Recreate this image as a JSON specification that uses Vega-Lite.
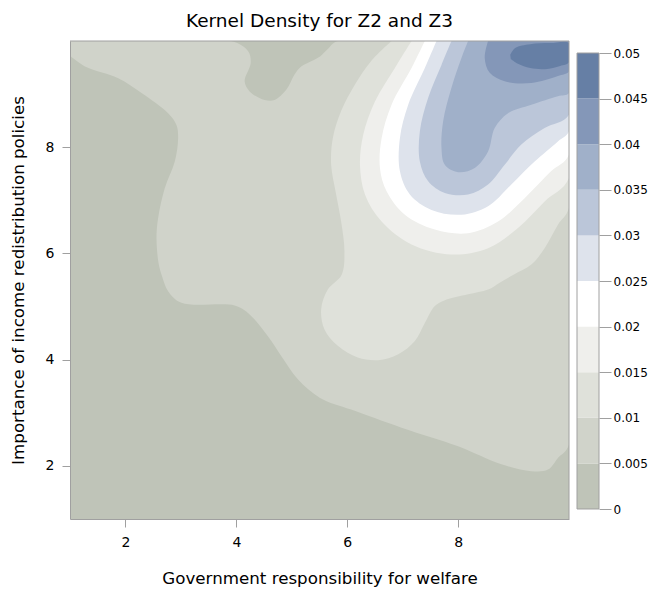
{
  "$schema": "https://vega.github.io/schema/vega-lite/v6.json",
  "autosize": {"type": "none"},
  "padding": {"left": 70, "top": 41, "right": 592, "bottom": 548},
  "background": "#ffffff",
  "spacing": 8,
  "bounds": "flush",
  "resolve": {"scale": {"x": "independent", "y": "independent", "fill": "independent"}},
  "hconcat": [
    {
      "width": 499,
      "height": 478,
      "title": {"text": "Kernel Density for Z2 and Z3", "font": "DejaVu Sans", "fontSize": 18.5, "fontWeight": "normal", "color": "#000000", "anchor": "middle", "frame": "group", "offset": 10},
      "data": {"values": [
        {"lev":0.0025,"i":1,"x":1,"y":1},{"lev":0.0025,"i":2,"x":10,"y":1},{"lev":0.0025,"i":3,"x":10,"y":10},{"lev":0.0025,"i":4,"x":1,"y":10},

        {"lev":0.0075,"i":1,"x":1,"y":10},{"lev":0.0075,"i":2,"x":3.91,"y":10},{"lev":0.0075,"i":3,"x":4.21,"y":9.81},{"lev":0.0075,"i":4,"x":4.26,"y":9.59},{"lev":0.0075,"i":5,"x":4.15,"y":9.24},{"lev":0.0075,"i":6,"x":4.24,"y":9.05},{"lev":0.0075,"i":7,"x":4.51,"y":8.89},{"lev":0.0075,"i":8,"x":4.69,"y":8.89},{"lev":0.0075,"i":9,"x":4.9,"y":9.08},{"lev":0.0075,"i":10,"x":5.05,"y":9.37},{"lev":0.0075,"i":11,"x":5.17,"y":9.52},{"lev":0.0075,"i":12,"x":5.35,"y":9.62},{"lev":0.0075,"i":13,"x":5.51,"y":9.71},{"lev":0.0075,"i":14,"x":5.65,"y":9.85},{"lev":0.0075,"i":15,"x":5.83,"y":10},{"lev":0.0075,"i":16,"x":10,"y":10},{"lev":0.0075,"i":17,"x":10,"y":2.4},{"lev":0.0075,"i":18,"x":9.8,"y":2.15},{"lev":0.0075,"i":19,"x":9.62,"y":1.93},{"lev":0.0075,"i":20,"x":9.32,"y":1.9},{"lev":0.0075,"i":21,"x":8.78,"y":2.03},{"lev":0.0075,"i":22,"x":8.0,"y":2.37},{"lev":0.0075,"i":23,"x":6.98,"y":2.72},{"lev":0.0075,"i":24,"x":6.07,"y":3.06},{"lev":0.0075,"i":25,"x":5.51,"y":3.28},{"lev":0.0075,"i":26,"x":5.11,"y":3.63},{"lev":0.0075,"i":27,"x":4.81,"y":4.07},{"lev":0.0075,"i":28,"x":4.57,"y":4.44},{"lev":0.0075,"i":29,"x":4.21,"y":4.88},{"lev":0.0075,"i":30,"x":3.97,"y":5.02},{"lev":0.0075,"i":31,"x":3.01,"y":5.07},{"lev":0.0075,"i":32,"x":2.77,"y":5.29},{"lev":0.0075,"i":33,"x":2.66,"y":5.57},{"lev":0.0075,"i":34,"x":2.6,"y":5.8},{"lev":0.0075,"i":35,"x":2.56,"y":6.29},{"lev":0.0075,"i":36,"x":2.59,"y":6.67},{"lev":0.0075,"i":37,"x":2.71,"y":7.23},{"lev":0.0075,"i":38,"x":2.89,"y":7.73},{"lev":0.0075,"i":39,"x":2.95,"y":8.17},{"lev":0.0075,"i":40,"x":2.92,"y":8.42},{"lev":0.0075,"i":41,"x":2.77,"y":8.64},{"lev":0.0075,"i":42,"x":2.29,"y":9.02},{"lev":0.0075,"i":43,"x":1.87,"y":9.3},{"lev":0.0075,"i":44,"x":1.27,"y":9.52},{"lev":0.0075,"i":45,"x":1,"y":9.72},

        {"lev":0.0125,"i":1,"x":6.8,"y":10},{"lev":0.0125,"i":2,"x":6.43,"y":9.62},{"lev":0.0125,"i":3,"x":6.14,"y":9.18},{"lev":0.0125,"i":4,"x":5.89,"y":8.68},{"lev":0.0125,"i":5,"x":5.74,"y":8.17},{"lev":0.0125,"i":6,"x":5.71,"y":7.67},{"lev":0.0125,"i":7,"x":5.8,"y":7.11},{"lev":0.0125,"i":8,"x":5.89,"y":6.6},{"lev":0.0125,"i":9,"x":5.95,"y":6.04},{"lev":0.0125,"i":10,"x":5.9,"y":5.6},{"lev":0.0125,"i":11,"x":5.65,"y":5.32},{"lev":0.0125,"i":12,"x":5.53,"y":4.95},{"lev":0.0125,"i":13,"x":5.59,"y":4.57},{"lev":0.0125,"i":14,"x":5.83,"y":4.26},{"lev":0.0125,"i":15,"x":6.19,"y":4.04},{"lev":0.0125,"i":16,"x":6.56,"y":3.99},{"lev":0.0125,"i":17,"x":6.92,"y":4.1},{"lev":0.0125,"i":18,"x":7.22,"y":4.35},{"lev":0.0125,"i":19,"x":7.4,"y":4.69},{"lev":0.0125,"i":20,"x":7.58,"y":5.01},{"lev":0.0125,"i":21,"x":7.76,"y":5.12},{"lev":0.0125,"i":22,"x":8.18,"y":5.23},{"lev":0.0125,"i":23,"x":8.54,"y":5.32},{"lev":0.0125,"i":24,"x":8.75,"y":5.45},{"lev":0.0125,"i":25,"x":9.0,"y":5.6},{"lev":0.0125,"i":26,"x":9.32,"y":5.79},{"lev":0.0125,"i":27,"x":9.56,"y":6.1},{"lev":0.0125,"i":28,"x":9.8,"y":6.54},{"lev":0.0125,"i":29,"x":10,"y":6.86},{"lev":0.0125,"i":30,"x":10,"y":10},

        {"lev":0.0175,"i":1,"x":7.16,"y":10},{"lev":0.0175,"i":2,"x":6.86,"y":9.49},{"lev":0.0175,"i":3,"x":6.5,"y":8.86},{"lev":0.0175,"i":4,"x":6.29,"y":8.24},{"lev":0.0175,"i":5,"x":6.23,"y":7.67},{"lev":0.0175,"i":6,"x":6.32,"y":7.11},{"lev":0.0175,"i":7,"x":6.62,"y":6.6},{"lev":0.0175,"i":8,"x":7.16,"y":6.17},{"lev":0.0175,"i":9,"x":7.88,"y":5.98},{"lev":0.0175,"i":10,"x":8.54,"y":6.1},{"lev":0.0175,"i":11,"x":9.08,"y":6.48},{"lev":0.0175,"i":12,"x":9.56,"y":6.98},{"lev":0.0175,"i":13,"x":10,"y":7.42},{"lev":0.0175,"i":14,"x":10,"y":10},

        {"lev":0.0225,"i":1,"x":7.4,"y":10},{"lev":0.0225,"i":2,"x":7.16,"y":9.49},{"lev":0.0225,"i":3,"x":6.8,"y":8.8},{"lev":0.0225,"i":4,"x":6.62,"y":8.17},{"lev":0.0225,"i":5,"x":6.59,"y":7.61},{"lev":0.0225,"i":6,"x":6.71,"y":7.17},{"lev":0.0225,"i":7,"x":7.04,"y":6.73},{"lev":0.0225,"i":8,"x":7.58,"y":6.45},{"lev":0.0225,"i":9,"x":8.18,"y":6.38},{"lev":0.0225,"i":10,"x":8.72,"y":6.6},{"lev":0.0225,"i":11,"x":9.2,"y":7.04},{"lev":0.0225,"i":12,"x":9.68,"y":7.55},{"lev":0.0225,"i":13,"x":10,"y":7.86},{"lev":0.0225,"i":14,"x":10,"y":10},

        {"lev":0.0275,"i":1,"x":7.61,"y":10},{"lev":0.0275,"i":2,"x":7.4,"y":9.49},{"lev":0.0275,"i":3,"x":7.1,"y":8.8},{"lev":0.0275,"i":4,"x":6.95,"y":8.17},{"lev":0.0275,"i":5,"x":6.95,"y":7.55},{"lev":0.0275,"i":6,"x":7.13,"y":7.11},{"lev":0.0275,"i":7,"x":7.52,"y":6.82},{"lev":0.0275,"i":8,"x":8.06,"y":6.73},{"lev":0.0275,"i":9,"x":8.54,"y":6.89},{"lev":0.0275,"i":10,"x":8.96,"y":7.3},{"lev":0.0275,"i":11,"x":9.38,"y":7.73},{"lev":0.0275,"i":12,"x":9.8,"y":8.11},{"lev":0.0275,"i":13,"x":10,"y":8.3},{"lev":0.0275,"i":14,"x":10,"y":10},

        {"lev":0.0325,"i":1,"x":7.88,"y":10},{"lev":0.0325,"i":2,"x":7.7,"y":9.55},{"lev":0.0325,"i":3,"x":7.46,"y":8.93},{"lev":0.0325,"i":4,"x":7.31,"y":8.3},{"lev":0.0325,"i":5,"x":7.31,"y":7.73},{"lev":0.0325,"i":6,"x":7.46,"y":7.36},{"lev":0.0325,"i":7,"x":7.76,"y":7.14},{"lev":0.0325,"i":8,"x":8.18,"y":7.11},{"lev":0.0325,"i":9,"x":8.54,"y":7.3},{"lev":0.0325,"i":10,"x":8.84,"y":7.67},{"lev":0.0325,"i":11,"x":9.14,"y":8.05},{"lev":0.0325,"i":12,"x":9.56,"y":8.36},{"lev":0.0325,"i":13,"x":10,"y":8.61},{"lev":0.0325,"i":14,"x":10,"y":10},

        {"lev":0.0375,"i":1,"x":8.18,"y":10},{"lev":0.0375,"i":2,"x":8.06,"y":9.68},{"lev":0.0375,"i":3,"x":7.88,"y":9.12},{"lev":0.0375,"i":4,"x":7.73,"y":8.49},{"lev":0.0375,"i":5,"x":7.7,"y":7.99},{"lev":0.0375,"i":6,"x":7.76,"y":7.67},{"lev":0.0375,"i":7,"x":8.0,"y":7.53},{"lev":0.0375,"i":8,"x":8.3,"y":7.61},{"lev":0.0375,"i":9,"x":8.54,"y":7.92},{"lev":0.0375,"i":10,"x":8.66,"y":8.36},{"lev":0.0375,"i":11,"x":8.9,"y":8.64},{"lev":0.0375,"i":12,"x":9.32,"y":8.8},{"lev":0.0375,"i":13,"x":9.8,"y":8.96},{"lev":0.0375,"i":14,"x":10,"y":9.02},{"lev":0.0375,"i":15,"x":10,"y":10},

        {"lev":0.0425,"i":1,"x":8.54,"y":10},{"lev":0.0425,"i":2,"x":8.48,"y":9.68},{"lev":0.0425,"i":3,"x":8.57,"y":9.4},{"lev":0.0425,"i":4,"x":8.84,"y":9.24},{"lev":0.0425,"i":5,"x":9.32,"y":9.21},{"lev":0.0425,"i":6,"x":9.8,"y":9.34},{"lev":0.0425,"i":7,"x":10,"y":9.43},{"lev":0.0425,"i":8,"x":10,"y":10},

        {"lev":0.0475,"i":1,"x":8.94,"y":9.74},{"lev":0.0475,"i":2,"x":9.03,"y":9.87},{"lev":0.0475,"i":3,"x":9.3,"y":9.94},{"lev":0.0475,"i":4,"x":9.66,"y":9.96},{"lev":0.0475,"i":5,"x":10,"y":9.96},{"lev":0.0475,"i":6,"x":10,"y":9.6},{"lev":0.0475,"i":7,"x":9.84,"y":9.53},{"lev":0.0475,"i":8,"x":9.57,"y":9.47},{"lev":0.0475,"i":9,"x":9.3,"y":9.49},{"lev":0.0475,"i":10,"x":9.08,"y":9.57},{"lev":0.0475,"i":11,"x":8.95,"y":9.66}
      ]},
      "encoding": {
        "x": {"field": "x", "type": "quantitative", "scale": {"domain": [1, 10], "nice": false, "zero": false},
          "axis": {"title": "Government responsibility for welfare", "values": [2, 4, 6, 8], "grid": false, "zindex": 1, "domainColor": "#a0a0a0", "tickColor": "#a0a0a0", "tickSize": 8, "labelPadding": 8, "labelFont": "DejaVu Sans", "labelFontSize": 14, "labelColor": "#000000", "titleFont": "DejaVu Sans", "titleFontSize": 16.7, "titleFontWeight": "normal", "titleColor": "#000000", "titlePadding": 21}},
        "y": {"field": "y", "type": "quantitative", "scale": {"domain": [1, 10], "nice": false, "zero": false},
          "axis": {"title": "Importance of income redistribution policies", "values": [2, 4, 6, 8], "grid": false, "zindex": 1, "domainColor": "#a0a0a0", "tickColor": "#a0a0a0", "tickSize": 8, "labelPadding": 8, "labelFont": "DejaVu Sans", "labelFontSize": 14, "labelColor": "#000000", "titleFont": "DejaVu Sans", "titleFontSize": 16.7, "titleFontWeight": "normal", "titleColor": "#000000", "titlePadding": 18}},
        "order": {"field": "i", "type": "quantitative"},
        "fill": {"field": "lev", "type": "quantitative",
          "scale": {"type": "quantize", "domain": [0, 0.05], "nice": false, "zero": false,
            "range": ["#bfc4b8", "#d0d3ca", "#dfe1da", "#efefec", "#ffffff", "#dee3ec", "#bbc6d9", "#a0b0c9", "#8497b8", "#667fa5"]},
          "legend": null}
      },
      "layer": [
        {"transform": [{"filter": "datum.lev == 0.0025"}], "mark": {"type": "line", "strokeWidth": 0, "clip": true}},
        {"transform": [{"filter": "datum.lev == 0.0075"}], "mark": {"type": "line", "strokeWidth": 0, "clip": true, "interpolate": "catmull-rom"}},
        {"transform": [{"filter": "datum.lev == 0.0125"}], "mark": {"type": "line", "strokeWidth": 0, "clip": true, "interpolate": "catmull-rom"}},
        {"transform": [{"filter": "datum.lev == 0.0175"}], "mark": {"type": "line", "strokeWidth": 0, "clip": true, "interpolate": "catmull-rom"}},
        {"transform": [{"filter": "datum.lev == 0.0225"}], "mark": {"type": "line", "strokeWidth": 0, "clip": true, "interpolate": "catmull-rom"}},
        {"transform": [{"filter": "datum.lev == 0.0275"}], "mark": {"type": "line", "strokeWidth": 0, "clip": true, "interpolate": "catmull-rom"}},
        {"transform": [{"filter": "datum.lev == 0.0325"}], "mark": {"type": "line", "strokeWidth": 0, "clip": true, "interpolate": "catmull-rom"}},
        {"transform": [{"filter": "datum.lev == 0.0375"}], "mark": {"type": "line", "strokeWidth": 0, "clip": true, "interpolate": "catmull-rom"}},
        {"transform": [{"filter": "datum.lev == 0.0425"}], "mark": {"type": "line", "strokeWidth": 0, "clip": true, "interpolate": "catmull-rom"}},
        {"transform": [{"filter": "datum.lev == 0.0475"}], "mark": {"type": "line", "strokeWidth": 0, "clip": true, "interpolate": "catmull-rom"}},
        {"data": {"values": [{"edge": 10}]}, "mark": {"type": "rule", "color": "#a0a0a0", "strokeWidth": 1}, "encoding": {"x": {"field": "edge", "type": "quantitative"}, "y": null, "order": null, "fill": null}},
        {"data": {"values": [{"edge": 10}]}, "mark": {"type": "rule", "color": "#a0a0a0", "strokeWidth": 1}, "encoding": {"y": {"field": "edge", "type": "quantitative"}, "x": null, "order": null, "fill": null}}
      ]
    },
    {
      "width": 22,
      "height": 478,
      "data": {"values": [
        {"lo": 0, "hi": 0.005, "lev": 0.0025},
        {"lo": 0.005, "hi": 0.01, "lev": 0.0075},
        {"lo": 0.01, "hi": 0.015, "lev": 0.0125},
        {"lo": 0.015, "hi": 0.02, "lev": 0.0175},
        {"lo": 0.02, "hi": 0.025, "lev": 0.0225},
        {"lo": 0.025, "hi": 0.03, "lev": 0.0275},
        {"lo": 0.03, "hi": 0.035, "lev": 0.0325},
        {"lo": 0.035, "hi": 0.04, "lev": 0.0375},
        {"lo": 0.04, "hi": 0.045, "lev": 0.0425},
        {"lo": 0.045, "hi": 0.05, "lev": 0.0475}
      ]},
      "layer": [
        {
          "mark": {"type": "rect", "strokeWidth": 0},
          "encoding": {
            "y": {"field": "lo", "type": "quantitative", "scale": {"domain": [-0.0010965, 0.051316], "nice": false, "zero": false},
              "axis": {"orient": "right", "title": null, "values": [0, 0.005, 0.01, 0.015, 0.02, 0.025, 0.03, 0.035, 0.04, 0.045, 0.05], "format": "~g", "grid": false, "domain": false, "tickSize": 12, "tickColor": "#a0a0a0", "labelPadding": 2, "labelFont": "DejaVu Sans", "labelFontSize": 12, "labelColor": "#000000", "labelOverlap": false, "labelFlush": false}},
            "y2": {"field": "hi"},
            "fill": {"field": "lev", "type": "quantitative",
              "scale": {"type": "quantize", "domain": [0, 0.05], "nice": false, "zero": false,
                "range": ["#bfc4b8", "#d0d3ca", "#dfe1da", "#efefec", "#ffffff", "#dee3ec", "#bbc6d9", "#a0b0c9", "#8497b8", "#667fa5"]},
              "legend": null}
          }
        },
        {
          "data": {"values": [{"lo": 0, "hi": 0.05}]},
          "mark": {"type": "rect", "fill": "transparent", "stroke": "#a0a0a0", "strokeWidth": 1},
          "encoding": {"y": {"field": "lo", "type": "quantitative"}, "y2": {"field": "hi"}}
        }
      ]
    }
  ],
  "config": {"view": {"stroke": null}}
}
